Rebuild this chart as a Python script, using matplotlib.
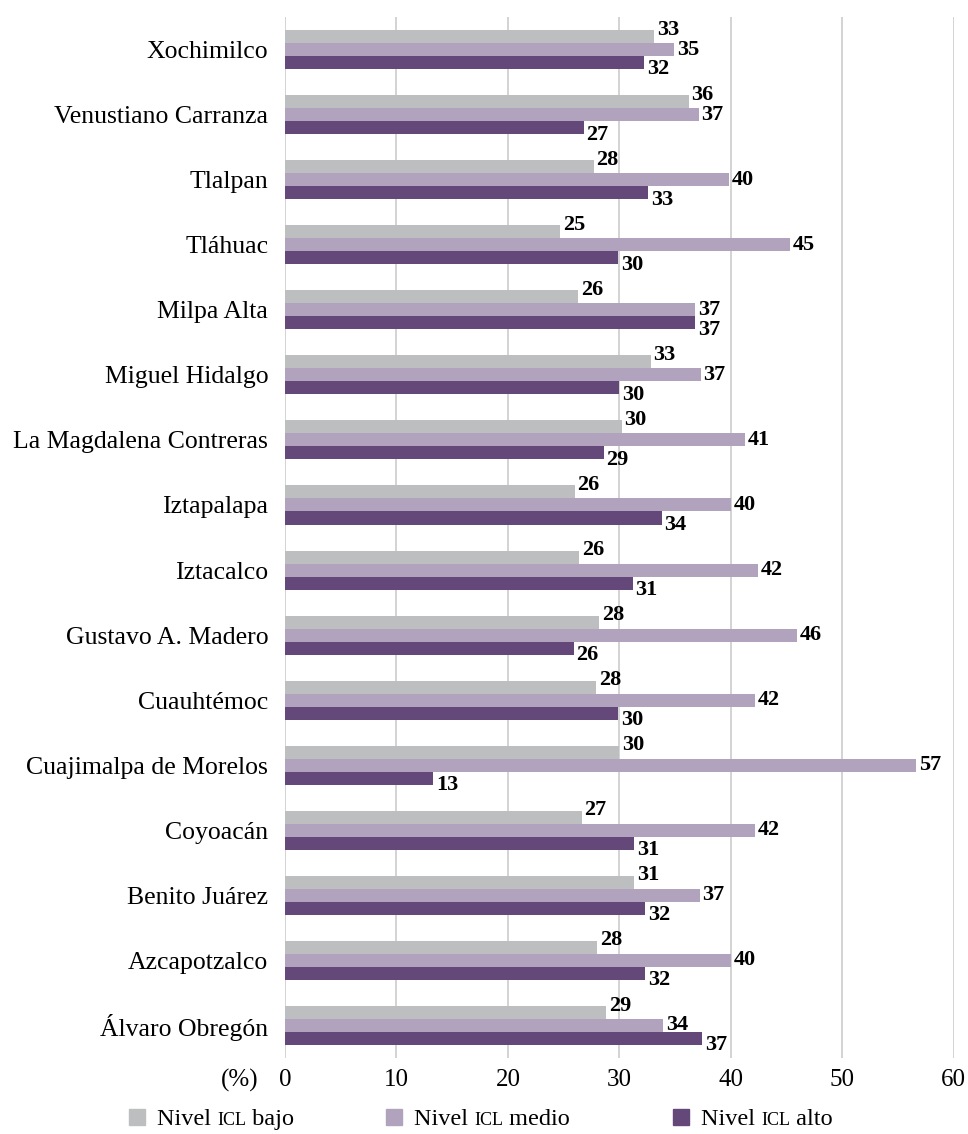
import matplotlib
matplotlib.use("Agg")
import matplotlib.pyplot as plt
import numpy as np
from matplotlib.patches import Rectangle

plt.rcParams['font.family'] = ['Liberation Serif', 'DejaVu Serif']

# categories listed bottom to top
delegaciones = [
    "Álvaro Obregón", "Azcapotzalco", "Benito Juárez", "Coyoacán",
    "Cuajimalpa de Morelos", "Cuauhtémoc", "Gustavo A. Madero", "Iztacalco",
    "Iztapalapa", "La Magdalena Contreras", "Miguel Hidalgo", "Milpa Alta",
    "Tláhuac", "Tlalpan", "Venustiano Carranza", "Xochimilco",
]
nivel_bajo = [28.8, 28.0, 31.3, 26.6, 30.0, 27.9, 28.2, 26.4,
              26.0, 30.2, 32.8, 26.3, 24.7, 27.7, 36.2, 33.1]
nivel_medio = [33.9, 40.0, 37.2, 42.2, 56.6, 42.2, 45.9, 42.4,
               40.0, 41.3, 37.3, 36.8, 45.3, 39.8, 37.1, 34.9]
nivel_alto = [37.4, 32.3, 32.3, 31.3, 13.3, 29.9, 25.9, 31.2,
              33.8, 28.6, 30.0, 36.8, 29.9, 32.6, 26.8, 32.2]

series = [
    ("bajo", nivel_bajo, "#bdbebf"),
    ("medio", nivel_medio, "#b1a3bd"),
    ("alto", nivel_alto, "#644879"),
]

fig = plt.figure(figsize=(9.68, 11.34), dpi=100)
ax = fig.add_axes([0.2944, 0.067, 0.691, 0.918])

y = np.arange(len(delegaciones))
h = 0.2
offsets = [h, 0, -h]
label_dy = [5, 0, -5]

for (name, vals, color), off, dy in zip(series, offsets, label_dy):
    ax.barh(y + off, vals, height=h, color=color, zorder=3)
    for yi, v in zip(y, vals):
        ax.annotate(f"{v:.0f}", (v, yi + off), xytext=(2, dy),
                    textcoords="offset points", ha="left", va="center",
                    fontsize=16, fontweight="bold", zorder=4)

ax.set_xlim(0, 60)
ax.set_ylim(-0.5, len(delegaciones) - 0.5)
ax.set_xticks(np.arange(0, 61, 10))
ax.set_yticks(y)
ax.set_yticklabels(delegaciones, fontsize=18.5)
ax.tick_params(axis="x", labelsize=18, length=0, pad=8)
ax.tick_params(axis="y", length=0, pad=12)
ax.grid(axis="x", color="#d0d0d0", linewidth=1.3, zorder=0)
for s in ax.spines.values():
    s.set_visible(False)

fig.canvas.draw()
r = fig.canvas.get_renderer()

# "(%)" on the same line as the x tick labels
tl = ax.get_xticklabels()[0]
bb0 = tl.get_window_extent(renderer=r)
ymid = (bb0.y0 + bb0.y1) / 2
ax.annotate("(%)", xy=(-2.4, 0), xycoords=("data", "axes fraction"),
            xytext=(0, (ymid - ax.bbox.y0) * 72 / fig.dpi),
            textcoords="offset points", ha="right", va="center",
            fontsize=18, annotation_clip=False)

# legend with small-caps "ICL"
base_y = 1 - 1125 / 1134
sq_y = 1 - 1125 / 1134
sq = 16 / 968
starts = [129 / 968, 386 / 968, 673 / 968]
for (name, vals, color), x0 in zip(series, starts):
    fig.patches.append(Rectangle((x0, sq_y), sq, 16 / 1134,
                                 transform=fig.transFigure, color=color))
    x = x0 + sq + 12 / 968
    for txt, fs in [("Nivel ", 17.5), ("ICL", 13), (" " + name, 17.5)]:
        t = fig.text(x, base_y, txt, fontsize=fs, va="baseline", ha="left")
        bb = t.get_window_extent(renderer=r)
        x += bb.width / fig.bbox.width

fig.savefig("out.png", dpi=100)
